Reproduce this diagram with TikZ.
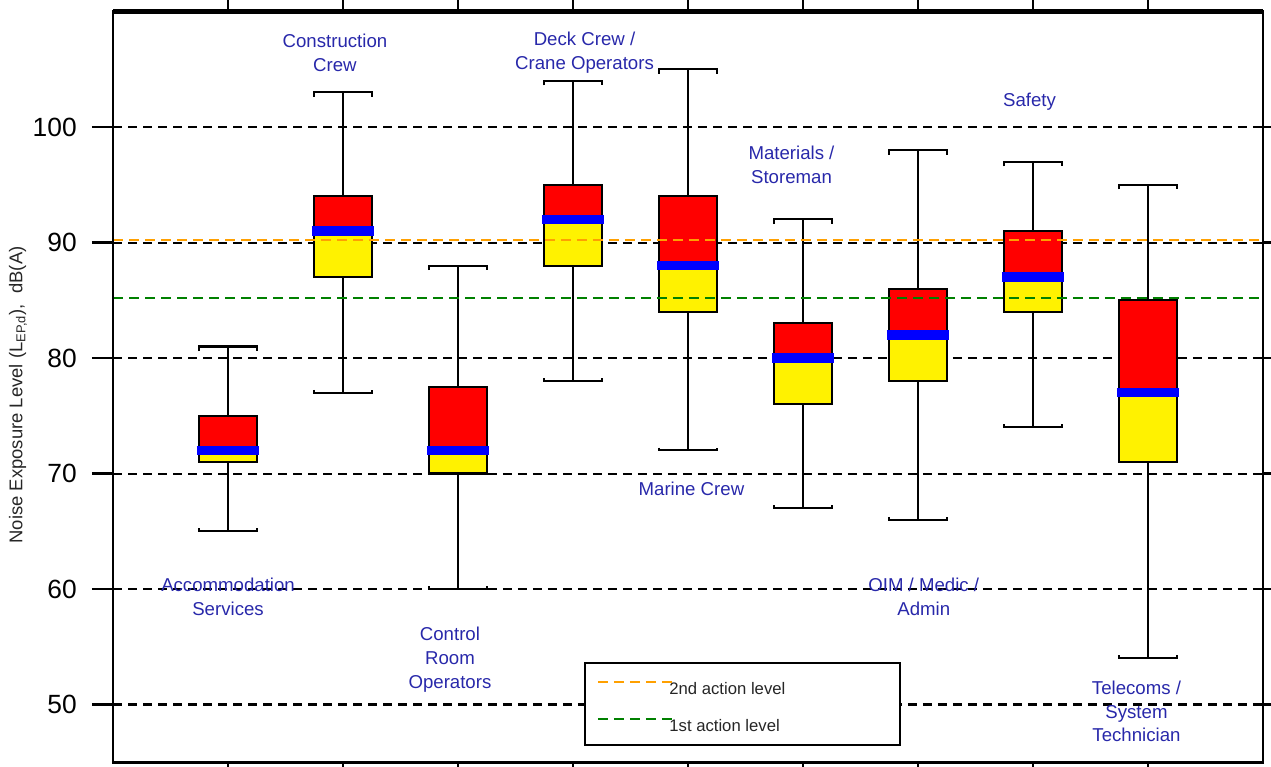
\documentclass[tikz,border=0pt]{standalone}
\usepackage{fontspec}
\setmainfont{Liberation Sans}
\usepackage{tikz}
\usetikzlibrary{positioning}

\begin{document}
\begin{tikzpicture}[x=2.3cm,y=0.231cm,
    grid line/.style={black,line width=1.15pt,dash pattern=on 0.18cm off 0.12cm},
    action line/.style={line width=1.15pt,dash pattern=on 0.2cm off 0.12cm},
    whisker/.style={black,line width=1.2pt},
    crew label/.style={text=crewblue,align=center,inner sep=0pt,
      font=\fontsize{10.6}{13.6}\selectfont},
    tick label/.style={anchor=east,inner sep=0pt,font=\fontsize{15}{18}\selectfont},
    legend text/.style={anchor=west,inner sep=0pt,text=black!85,
      font=\fontsize{9.5}{11}\selectfont}]
        \definecolor{crewblue}{RGB}{40,40,170}
        \definecolor{levelTwo}{RGB}{255,160,0}
        \colorlet{levelOne}[rgb]{green!50!black}
        \def\hw{0.25}
        % one box per crew: x, min, q1, median, q3, max
        \def\crewbox#1#2#3#4#5#6{%
          \draw[whisker] (#1,#2) -- (#1,#6);
          \draw[whisker] (#1-\hw,#6-0.4) -- (#1-\hw,#6) -- (#1+\hw,#6) -- (#1+\hw,#6-0.4);
          \draw[whisker] (#1-\hw,#2+0.25) -- (#1-\hw,#2) -- (#1+\hw,#2) -- (#1+\hw,#2+0.25);
          \fill[yellow] (#1-\hw,#3) rectangle (#1+\hw,#4);
          \fill[red] (#1-\hw,#4) rectangle (#1+\hw,#5);
          \draw[whisker] (#1-\hw,#3) rectangle (#1+\hw,#5);
          \draw[blue,line width=5.5pt] (#1-\hw-0.02,#4) -- (#1+\hw+0.02,#4);
        }

        \useasboundingbox (-0.983,44.59) rectangle (10.07,111.0);

        % grid and ticks
        \foreach \v in {50,60,...,100} {
          \draw[grid line] (0,\v) -- (10,\v);
          \draw[line width=1.2pt] (-0.183,\v) -- (0,\v) (10,\v) -- (10.1,\v);
          \node[tick label] at (-0.313,\v) {\v};
        }
        \foreach \c in {1,...,9}
          \draw[line width=1.2pt] (\c,110) -- (\c,111.5) (\c,45) -- (\c,44);

        \crewbox{1}{65}{71}{72}{75}{81}
        \crewbox{2}{77}{87}{91}{94}{103}
        \crewbox{3}{60}{70}{72}{77.5}{88}
        \crewbox{4}{78}{88}{92}{95}{104}
        \crewbox{5}{72}{84}{88}{94}{105}
        \crewbox{6}{67}{76}{80}{83}{92}
        \crewbox{7}{66}{78}{82}{86}{98}
        \crewbox{8}{74}{84}{87}{91}{97}
        \crewbox{9}{54}{71}{77}{85}{95}

        % action levels
        \draw[action line,levelTwo] (0,90.2) -- (10,90.2);
        \draw[action line,levelOne] (0,85.2) -- (10,85.2);

        \draw[line width=1.5pt] (0,45) rectangle (10,110);
        \draw[line width=2.4pt] (0,110) -- (10,110);

        \node[rotate=90,inner sep=0pt,text=black!85,font=\fontsize{10.5}{12}\selectfont]
          (ylabel) at (-0.826,76.8) {Noise Exposure Level (L\textsubscript{EP,d}),\ \ dB(A)};

        \node[crew label] (accom) at (1.0,59.3) {Accommodation\\Services};
        \node[crew label] (constr) at (1.93,106.4) {Construction\\Crew};
        \node[crew label] (control) at (2.93,53.85) {Control\\Room\\Operators};
        \node[crew label] (deck) at (4.10,106.4) {Deck Crew /\\Crane Operators};
        \node[crew label] (marine) at (5.03,68.66) {Marine Crew};
        \node[crew label] (stores) at (5.90,96.7) {Materials /\\Storeman};
        \node[crew label] (oim) at (7.05,59.3) {OIM / Medic /\\Admin};
        \node[crew label] (safety) at (7.97,102.16) {Safety};
        \node[crew label] (telecoms) at (8.90,49.4) {Telecoms /\\System\\Technician};

        % legend
        \draw[line width=1.2pt,fill=white] (4.104,46.5) rectangle (6.843,53.6);
        \node[legend text] (lvltwo) at (4.835,51.34) {2nd action level};
        \node[legend text] (lvlone) at (4.835,48.14) {1st action level};
        \draw[action line,levelTwo] (4.217,51.95) -- (4.887,51.95);
        \draw[action line,levelOne] (4.217,48.74) -- (4.887,48.74);
      \end{tikzpicture}
\end{document}
